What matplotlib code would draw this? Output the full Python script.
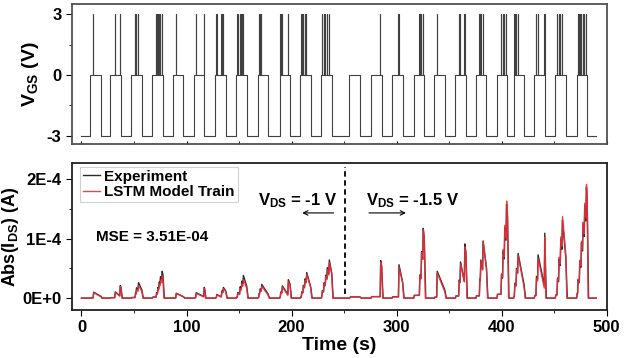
import numpy as np
import matplotlib.pyplot as plt

plt.rcParams['font.family'] = ['Liberation Sans', 'DejaVu Sans']
plt.rcParams['font.weight'] = 'bold'
plt.rcParams['axes.labelweight'] = 'bold'
plt.rcParams['axes.unicode_minus'] = False
plt.rcParams['mathtext.fontset'] = 'custom'
plt.rcParams['mathtext.rm'] = 'Liberation Sans:bold'
plt.rcParams['mathtext.bf'] = 'Liberation Sans:bold'
plt.rcParams['mathtext.it'] = 'Liberation Sans:bold'

# gate pulses: start time (s), 10 s at 0 V, short spikes to +3 V inside
pulse_start = [8.5, 27.5, 47.5, 67.5, 87.1, 107.1, 127.4, 147.3, 167.6, 188.5, 208.2, 228.2,
               255.1, 275.7, 295.7, 316.3, 335.9, 355.9, 375.5, 395.5, 411.3, 431.0, 451.0, 471.3]
pulse_width = 10.0
spike_times = [
    [11.1], [31.7, 36.4], [51.0, 51.9, 53.8], [71.0, 72.3, 73.5, 74.7, 76.3], [89.7],
    [108.7, 116.3], [128.3, 133.1, 134.6], [148.3, 150.5, 152.1, 153.6],
    [168.6, 169.5, 171.1], [189.2, 190.7, 196.4], [209.2, 210.7, 212.3, 213.9],
    [228.8, 230.4, 232.0, 233.5, 235.4], [],
    [284.3], [301.7], [321.6, 323.2, 324.8], [338.1], [359.0, 360.3, 364.4],
    [378.7, 379.6, 381.8], [399.3, 400.8, 402.4, 404.1], [412.0, 413.6, 415.1],
    [432.6, 434.1, 440.5], [452.6, 454.1, 455.7, 457.3],
    [472.2, 473.8, 475.4, 476.9, 478.5, 480.1],
]
t_end = 490.0

# peak drain current of each pulse (1E-4 A)
exp_peak = [0.10, 0.21, 0.26, 0.45, 0.08, 0.18, 0.18, 0.38, 0.23, 0.31, 0.43, 0.64,
            0.02, 0.63, 0.56, 1.17, 0.45, 0.91, 0.96, 1.58, 0.75, 1.09, 1.31, 1.86]
lstm_peak = [0.09, 0.19, 0.21, 0.38, 0.08, 0.16, 0.16, 0.31, 0.20, 0.28, 0.40, 0.60,
             0.02, 0.60, 0.52, 1.15, 0.42, 0.86, 0.94, 1.63, 0.72, 1.00, 1.37, 1.91]

vds_switch = 250.5


def gate_trace():
    t, v = [0.0], [-3.0]
    for s, sp in zip(pulse_start, spike_times):
        t += [s, s]
        v += [-3, 0]
        for ts in sp:
            t += [ts, ts, ts + 0.25, ts + 0.25]
            v += [0, 3, 3, 0]
        t += [s + pulse_width, s + pulse_width]
        v += [0, -3]
    t.append(t_end)
    v.append(-3)
    return t, v


def current_trace(peaks, fall, rise, keep):
    t, y = [0.0], [0.0]
    for s, sp, pk in zip(pulse_start, spike_times, peaks):
        e = s + pulse_width
        if not sp:
            t += [s, s + 1, e, e + fall]
            y += [0, pk, pk, 0]
            continue
        n = len(sp)
        t += [s, s + 0.5]
        y += [0, 0.04 * pk]
        level = 0.04 * pk
        for k, ts in enumerate(sp):
            t += [ts]
            y += [level]
            level = pk * (k + 1) / n
            t += [ts + rise]
            y += [level]
            nxt = sp[k + 1] if k + 1 < n else e
            dt = nxt - (ts + rise)
            level = level * max(keep, 1 - 0.15 * dt)
        t += [e, e + fall]
        y += [level, 0]
    t.append(t_end)
    y.append(0)
    return np.array(t), np.array(y) * 1e-4


fig = plt.figure(figsize=(6.24, 3.58), dpi=100)
ax1 = fig.add_axes([0.1154, 0.598, 0.857, 0.391])
ax2 = fig.add_axes([0.1154, 0.134, 0.857, 0.411])

tg, vg = gate_trace()
ax1.plot(tg, vg, color='#404040', lw=0.8)
ax1.set_xlim(-9, 500)
ax1.set_ylim(-3.4, 3.5)
ax1.set_xticks(np.arange(0, 501, 100))
ax1.set_xticks(np.arange(50, 501, 100), minor=True)
ax1.tick_params(axis='x', which='both', labelbottom=False, direction='in', length=2)
ax1.set_yticks([-3, 0, 3])
ax1.set_yticks([-1.5, 1.5], minor=True)
ax1.tick_params(axis='y', which='major', direction='out', length=4, labelsize=12)
ax1.tick_params(axis='y', which='minor', direction='out', length=2)
ax1.set_ylabel(r'V$_{\mathrm{GS}}$ (V)', fontsize=14, labelpad=4)
for sp in ax1.spines.values():
    sp.set_color('#505050')
    sp.set_linewidth(1.3)

te, ie = current_trace(exp_peak, 1.4, 0.5, 0.3)
tl, il = current_trace(lstm_peak, 1.0, 0.6, 0.25)
ax2.plot(te, ie, color='#2b2b2b', lw=1.0, label='Experiment')
ax2.plot(tl, il, color='#e8303a', lw=1.0, alpha=0.9, label='LSTM Model Train')
ax2.set_xlim(-9, 500)
ax2.set_ylim(-0.2e-4, 2.27e-4)
ax2.set_xticks(np.arange(0, 501, 100))
ax2.set_xticks(np.arange(50, 501, 100), minor=True)
ax2.set_yticks([0, 1e-4, 2e-4], ['0E+0', '1E-4', '2E-4'])
ax2.set_yticks([0.5e-4, 1.5e-4], minor=True)
ax2.tick_params(which='major', direction='out', length=4, labelsize=12)
ax2.tick_params(which='minor', direction='out', length=2)
ax2.set_xlabel('Time (s)', fontsize=14, labelpad=1)
ax2.set_ylabel(r'Abs(I$_{\mathrm{DS}}$) (A)', fontsize=13, labelpad=1)
for sp in ax2.spines.values():
    sp.set_color('#202020')
    sp.set_linewidth(1.3)

ax2.plot([vds_switch, vds_switch], [0.07e-4, 2.2e-4], color='k', lw=1.3, ls=(0, (3, 2)))
ax2.annotate('', xy=(207.5, 1.43e-4), xytext=(242.7, 1.43e-4),
             arrowprops=dict(arrowstyle='->', lw=0.8, mutation_scale=8))
ax2.annotate('', xy=(311.5, 1.43e-4), xytext=(271.0, 1.43e-4),
             arrowprops=dict(arrowstyle='->', lw=0.8, mutation_scale=8))
ax2.text(167.6, 1.64e-4, r'V$_{\mathrm{DS}}$ = -1 V', fontsize=12, va='center', ha='left')
ax2.text(271.0, 1.64e-4, r'V$_{\mathrm{DS}}$ = -1.5 V', fontsize=12, va='center', ha='left')
ax2.text(14.3, 1.02e-4, 'MSE = 3.51E-04', fontsize=11, va='center', ha='left')

leg = ax2.legend(loc='upper left', bbox_to_anchor=(0.015, 0.975), prop={'weight': 'bold', 'size': 11},
                 frameon=True, fancybox=False, edgecolor='#d0d0d0', framealpha=1,
                 handlelength=1.1, handletextpad=0.3, borderpad=0.2, labelspacing=0.1,
                 borderaxespad=0)
leg.get_frame().set_linewidth(0.8)

fig.savefig('out.png', dpi=100)
